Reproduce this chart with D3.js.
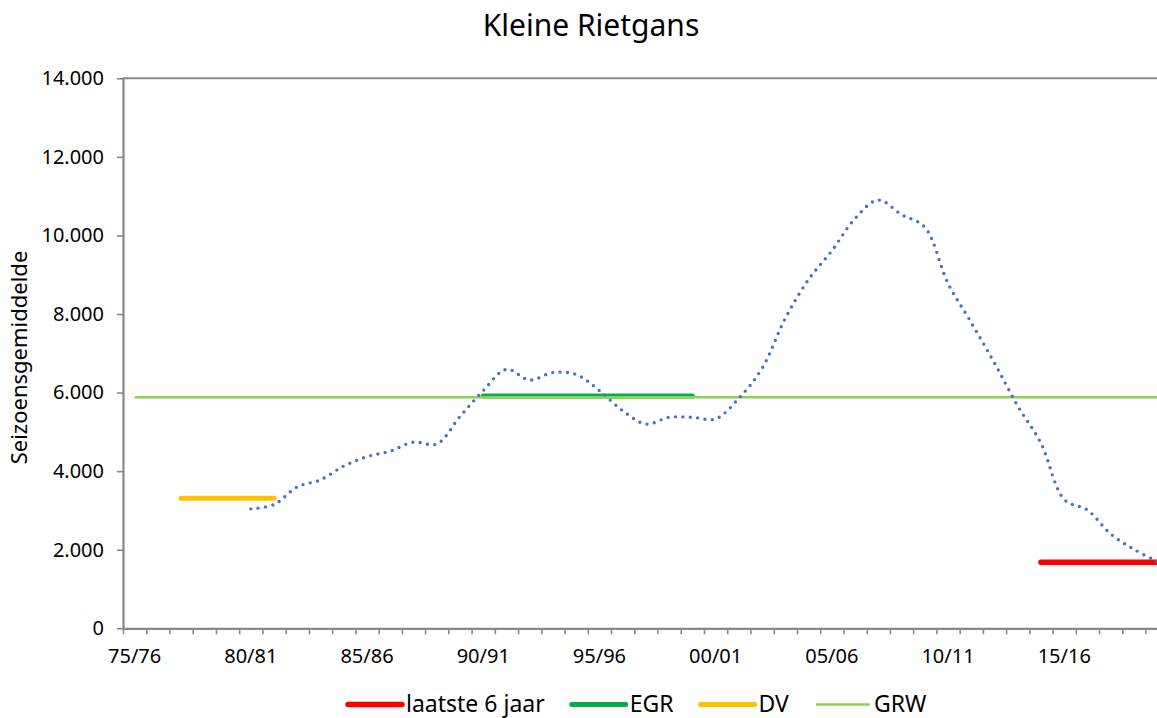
<!DOCTYPE html>
<html>
<head>
<meta charset="utf-8">
<script src="https://cdn.jsdelivr.net/npm/d3@7"></script>
<style>
  body { margin: 0; background: #ffffff; }
  svg { display: block; }
  text { font-family: "Noto Sans", sans-serif; fill: #000000; }
</style>
</head>
<body>
<svg id="chart" width="1157" height="718"></svg>
<script>
// ---------- DATA ----------
const title = "Kleine Rietgans";
const yAxisTitle = "Seizoensgemiddelde";

const seasons = ["75/76","76/77","77/78","78/79","79/80","80/81","81/82","82/83","83/84","84/85",
  "85/86","86/87","87/88","88/89","89/90","90/91","91/92","92/93","93/94","94/95",
  "95/96","96/97","97/98","98/99","99/00","00/01","01/02","02/03","03/04","04/05",
  "05/06","06/07","07/08","08/09","09/10","10/11","11/12","12/13","13/14","14/15",
  "15/16","16/17","17/18","18/19","19/20"];

const labeledSeasons = ["75/76","80/81","85/86","90/91","95/96","00/01","05/06","10/11","15/16"];

const yTicks = [0, 2000, 4000, 6000, 8000, 10000, 12000, 14000];

// Seasonal average (dotted blue), from 80/81 to 19/20
const trendStart = "80/81";
const trendValues = [3040, 3150, 3600, 3780, 4130, 4370, 4510, 4740, 4690, 5390,
  6050, 6590, 6320, 6510, 6460, 6050, 5540, 5200, 5370, 5370,
  5330, 5855, 6620, 7890, 8880, 9610, 10430, 10900, 10530, 10210,
  8780, 7780, 6750, 5660, 4710, 3280, 3010, 2400, 2010, 1700];

// Reference levels (legend series)
const levelNames  = ["laatste 6 jaar", "EGR", "DV", "GRW"];
const levelValues = [1680, 5910, 3310, 5880];
const levelFrom   = ["14/15", "90/91", "77/78", "75/76"];
const levelTo     = ["19/20", "99/00", "81/82", "19/20"];

// ---------- STYLE ----------
const levelColors = ["#ff0000", "#00b050", "#ffc000", "#8fd14f"];
const levelWidths = [5.5, 5, 5, 2.5];
const trendColor = "#4472c4";
const axisColor = "#888888";

// ---------- LAYOUT ----------
const svg = d3.select("#chart");
const plotLeft = 123, plotTop = 78.3, plotBottom = 628.3;
const catWidth = 23.24;
const plotRight = plotLeft + seasons.length * catWidth;

const x = d3.scaleBand().domain(seasons).range([plotLeft, plotRight]).padding(0);
const xc = s => x(s) + x.bandwidth() / 2;
const xIdx = d3.scaleLinear().domain([0, seasons.length]).range([plotLeft, plotRight]);
const y = d3.scaleLinear().domain([0, 14000]).range([plotBottom, plotTop]);

const nl = d3.formatLocale({decimal: ",", thousands: ".", grouping: [3], currency: ["€", ""]});
const fmt = nl.format(",d");

// Title
svg.append("text")
  .attr("x", 591).attr("y", 36)
  .attr("text-anchor", "middle")
  .style("font-size", "30px")
  .text(title);

// Y axis title
svg.append("text")
  .attr("transform", `translate(27, ${(245 + 470) / 2}) rotate(-90)`)
  .attr("text-anchor", "middle")
  .style("font-size", "22px")
  .text(yAxisTitle);

// Top border of plot
svg.append("line")
  .attr("x1", plotLeft).attr("x2", plotRight)
  .attr("y1", y(14000)).attr("y2", y(14000))
  .attr("stroke", axisColor).attr("stroke-width", 2);

// Y axis
const yAxis = svg.append("g")
  .attr("transform", `translate(${plotLeft},0)`)
  .call(d3.axisLeft(y).tickValues(yTicks).tickFormat(fmt).tickSize(6).tickPadding(13).tickSizeOuter(0));
yAxis.select(".domain").attr("stroke", axisColor).attr("stroke-width", 2.2);
yAxis.selectAll(".tick line").attr("stroke", axisColor).attr("stroke-width", 1.6);
yAxis.selectAll(".tick text").style("font-size", "20px").attr("fill", "#000").style("font-family", "'Noto Sans', sans-serif");

// X axis: boundary ticks
const xTickAxis = svg.append("g")
  .attr("transform", `translate(0,${plotBottom})`)
  .call(d3.axisBottom(xIdx).tickValues(d3.range(seasons.length + 1)).tickFormat("").tickSize(6).tickSizeOuter(0));
xTickAxis.select(".domain").attr("stroke", axisColor).attr("stroke-width", 2.2);
xTickAxis.selectAll(".tick line").attr("stroke", axisColor).attr("stroke-width", 1.6);

// X axis: labels at category centres
const xLabAxis = svg.append("g")
  .attr("transform", `translate(0,${plotBottom})`)
  .call(d3.axisBottom(x).tickValues(labeledSeasons).tickSize(0).tickSizeOuter(0));
xLabAxis.select(".domain").remove();
xLabAxis.selectAll(".tick text")
  .attr("y", 34.7).attr("dy", 0)
  .style("font-size", "20px").attr("fill", "#000").style("font-family", "'Noto Sans', sans-serif");

// Reference level lines
const levelG = svg.append("g");
levelNames.forEach((name, i) => {
  levelG.append("line")
    .attr("x1", xc(levelFrom[i])).attr("x2", xc(levelTo[i]))
    .attr("y1", y(levelValues[i])).attr("y2", y(levelValues[i]))
    .attr("stroke", levelColors[i])
    .attr("stroke-width", levelWidths[i])
    .attr("stroke-linecap", i === 3 ? "butt" : "round");
});

// Trend (dotted, smoothed)
const trendSeasons = seasons.slice(seasons.indexOf(trendStart));
const trendData = trendSeasons.map((s, i) => ({s, v: trendValues[i]}));
svg.append("path")
  .datum(trendData)
  .attr("fill", "none")
  .attr("stroke", trendColor)
  .attr("stroke-width", 3.4)
  .attr("stroke-linecap", "round")
  .attr("stroke-dasharray", "0 7.4")
  .attr("d", d3.line().x(d => xc(d.s)).y(d => y(d.v)).curve(d3.curveCatmullRom.alpha(0.5)));

// Legend
const legend = svg.append("g");
let lx = 348;
const ly = 704.5;
levelNames.forEach((name, i) => {
  legend.append("line")
    .attr("x1", lx).attr("x2", lx + 54)
    .attr("y1", ly).attr("y2", ly)
    .attr("stroke", levelColors[i])
    .attr("stroke-width", levelWidths[i])
    .attr("stroke-linecap", i === 3 ? "butt" : "round");
  const t = legend.append("text")
    .attr("x", lx + 58).attr("y", 712)
    .style("font-size", "23px")
    .text(name);
  lx = lx + 58 + t.node().getComputedTextLength() + 27;
});
</script>
</body>
</html>
